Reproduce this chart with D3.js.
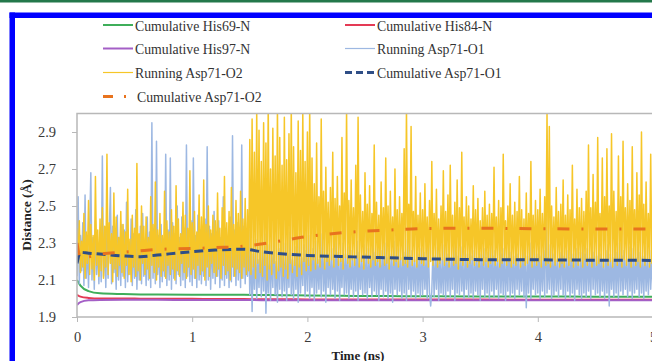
<!DOCTYPE html>
<html>
<head>
<meta charset="utf-8">
<script src="https://cdn.jsdelivr.net/npm/d3@7/dist/d3.min.js"></script>
<style>
  html, body { margin: 0; padding: 0; background: #fff; }
  svg { display: block; }
</style>
</head>
<body>
<svg id="chart" width="652" height="361"></svg>
<script>
// time axis ticks / distance ticks
const xTicks = [0, 1, 2, 3, 4, 5];
const yTicks = [1.9, 2.1, 2.3, 2.5, 2.7, 2.9];

// running distances, one sample every 0.01 ns
const runStep = 0.01;
const runningO1 = [
  2.12,2.55,2.08,2.34,2.15,2.41,2.07,2.56,2.11,2.30,2.06,2.38,2.68,2.10,2.33,2.05,2.42,2.13,2.29,2.08,
  2.36,2.09,2.77,2.12,2.31,2.06,2.44,2.11,2.35,2.60,2.08,2.39,2.14,2.28,2.05,2.45,2.10,2.33,2.07,2.40,
  2.12,2.37,2.06,2.52,2.09,2.30,2.13,2.43,2.07,2.35,2.11,2.48,2.05,2.32,2.10,2.39,2.08,2.46,2.12,2.31,
  2.07,2.44,2.10,2.36,2.06,2.95,2.11,2.38,2.08,2.85,2.13,2.34,2.06,2.40,2.09,2.32,2.12,2.78,2.07,2.37,
  2.10,2.76,2.05,2.41,2.11,2.35,2.08,2.50,2.13,2.33,2.07,2.44,2.10,2.38,2.06,2.83,2.12,2.36,2.09,2.42,
  2.07,2.76,2.11,2.34,2.06,2.45,2.10,2.37,2.08,2.31,2.12,2.43,2.07,2.82,2.10,2.39,2.05,2.35,2.11,2.47,
  2.08,2.36,2.12,2.42,2.06,2.33,2.10,2.55,2.07,2.38,2.11,2.32,2.06,2.44,2.09,2.88,2.12,2.37,2.07,2.41,
  2.10,2.35,2.06,2.83,2.11,2.39,2.08,2.33,2.12,2.40,2.02,2.28,1.93,2.24,2.05,2.32,2.00,2.21,2.06,2.30,
  2.01,2.26,2.04,2.35,1.92,2.22,2.03,2.29,1.99,2.25,2.06,2.33,2.02,2.20,1.98,2.27,2.05,2.38,2.01,2.23,
  2.04,2.30,1.99,2.24,2.06,2.36,2.02,2.21,2.00,2.28,2.05,2.25,1.98,2.32,2.03,2.22,2.07,2.29,2.01,2.26,
  2.04,2.34,2.00,2.23,2.06,2.27,1.99,2.31,2.03,2.21,2.05,2.26,2.01,2.35,2.04,2.22,1.98,2.29,2.06,2.24,
  2.02,2.27,2.05,2.21,2.00,2.33,2.04,2.25,1.99,2.22,2.06,2.30,2.02,2.24,2.03,2.28,2.00,2.21,2.05,2.26,
  2.01,2.23,2.04,2.31,1.99,2.25,2.05,2.22,2.02,2.29,2.03,2.24,2.00,2.27,2.06,2.21,2.01,2.33,2.04,2.25,
  2.02,2.28,1.99,2.23,2.05,2.26,2.01,2.30,2.04,2.22,2.00,2.27,2.03,2.24,1.98,2.31,2.05,2.23,2.02,2.27,
  2.04,2.22,2.00,2.29,2.03,2.25,1.99,2.32,2.05,2.23,2.01,2.26,2.04,2.21,2.00,2.28,2.03,2.24,2.01,2.27,
  2.02,2.25,2.05,2.22,2.00,2.30,2.03,1.96,2.04,2.26,2.01,2.23,2.05,2.28,1.99,2.24,2.03,2.21,2.02,2.29,
  2.00,2.24,2.04,2.27,2.01,2.22,2.05,2.30,1.99,2.25,2.03,2.23,2.02,2.28,2.04,2.21,2.00,2.26,2.05,2.24,
  2.01,2.29,2.03,2.23,2.00,2.26,2.04,2.22,2.02,2.31,1.99,2.24,2.05,2.27,2.01,2.22,2.03,2.25,2.00,2.28,
  2.04,2.23,2.01,2.26,2.05,2.21,2.00,2.29,2.03,2.24,2.02,2.27,1.99,2.22,2.04,2.30,2.01,2.25,2.03,2.23,
  2.00,2.27,2.05,2.24,2.02,2.21,2.04,2.28,2.01,2.25,1.95,2.23,2.03,2.30,2.00,2.22,2.05,2.26,2.02,2.24,
  2.03,2.28,2.00,2.23,2.04,2.26,2.01,2.45,2.03,2.22,2.05,2.29,2.00,2.24,2.02,2.27,2.04,2.21,2.01,2.25,
  2.05,2.30,2.02,2.23,2.00,2.26,2.04,2.22,2.01,2.28,2.03,2.24,1.99,2.27,2.05,2.21,2.02,2.25,2.00,2.29,
  2.03,2.24,2.01,2.27,2.04,2.22,2.00,2.30,2.05,2.25,2.02,2.23,2.03,2.28,2.01,2.24,2.04,2.21,2.00,2.26,
  2.03,2.29,1.96,2.24,2.05,2.22,2.01,2.27,2.03,2.25,2.00,2.30,2.04,2.23,2.02,2.26,2.05,2.21,2.01,2.28,
  2.04,2.24,2.00,2.27,2.03,2.22,2.05,2.29,2.01,2.25,2.03,2.23,2.00,2.28,2.04,2.21,2.02,2.26,2.05,2.24,
  2.03
];
const runningO2 = [
  2.38,2.20,2.42,2.14,2.31,2.17,2.46,2.11,2.36,2.19,2.53,2.13,2.40,2.16,2.34,2.10,2.66,2.18,2.37,2.12,
  2.43,2.15,2.49,2.11,2.39,2.17,2.78,2.13,2.41,2.19,2.35,2.09,2.57,2.16,2.44,2.12,2.33,2.18,2.47,2.14,
  2.40,2.11,2.36,2.18,2.59,2.13,2.32,2.09,2.45,2.17,2.38,2.12,2.73,2.15,2.35,2.10,2.50,2.19,2.39,2.13,
  2.44,2.16,2.33,2.11,2.55,2.18,2.40,2.14,2.63,2.10,2.37,2.17,2.46,2.12,2.34,2.15,2.58,2.11,2.42,2.18,
  2.36,2.13,2.48,2.16,2.39,2.10,2.61,2.15,2.43,2.12,2.35,2.19,2.52,2.14,2.45,2.11,2.38,2.17,2.69,2.13,
  2.41,2.16,2.47,2.11,2.36,2.18,2.56,2.13,2.44,2.15,2.64,2.10,2.40,2.17,2.50,2.12,2.37,2.19,2.45,2.14,
  2.42,2.12,2.57,2.16,2.38,2.11,2.49,2.18,2.66,2.13,2.41,2.15,2.47,2.10,2.60,2.17,2.40,2.12,2.53,2.16,
  2.46,2.14,2.58,2.11,2.43,2.17,2.54,2.13,2.48,2.15,2.86,2.13,2.97,2.17,2.79,2.11,3.02,2.19,2.91,2.14,
  2.74,2.12,2.95,2.18,2.84,2.10,3.05,2.16,2.70,2.13,2.92,2.19,2.77,2.11,3.03,2.15,2.87,2.17,2.72,2.12,
  2.98,2.16,2.75,2.11,2.89,2.19,3.04,2.14,2.82,2.18,2.68,2.12,2.96,2.17,2.80,2.13,3.01,2.20,2.74,2.15,
  2.90,2.18,3.03,2.15,2.76,2.21,2.62,2.16,2.84,2.19,2.55,2.17,2.97,2.22,2.58,2.16,2.71,2.20,2.52,2.18,
  2.60,2.21,2.79,2.17,2.54,2.23,2.66,2.18,2.50,2.20,2.87,2.16,2.57,2.22,3.02,2.19,2.53,2.17,2.64,2.21,
  2.49,2.18,2.72,2.22,2.98,2.17,2.56,2.20,2.47,2.16,2.68,2.23,2.51,2.19,2.61,2.17,2.46,2.21,2.83,2.18,
  2.52,2.20,2.45,2.17,2.63,2.22,2.49,2.18,2.76,2.19,2.50,2.16,2.58,2.21,2.44,2.18,2.70,2.20,2.48,2.17,
  2.55,2.21,2.46,2.18,2.81,2.19,3.03,2.17,2.51,2.22,2.93,2.18,2.47,2.20,2.66,2.17,2.45,2.21,2.57,2.19,
  2.48,2.18,2.62,2.21,2.44,2.17,2.53,2.20,2.74,2.18,2.46,2.22,2.59,2.17,2.43,2.19,2.50,2.21,2.69,2.18,
  2.47,2.20,2.56,2.17,2.72,2.21,2.45,2.18,2.52,2.19,2.64,2.16,2.49,2.20,2.79,2.18,2.44,2.21,2.55,2.17,
  2.50,2.19,2.43,2.21,2.61,2.18,2.48,2.20,2.54,2.17,2.42,2.21,2.49,2.18,2.58,2.20,2.45,2.17,2.51,2.19,
  2.46,2.21,2.71,2.18,2.44,2.20,2.53,2.17,2.49,2.19,2.78,2.21,2.42,2.18,2.50,2.20,2.62,2.17,2.45,2.19,
  2.52,2.18,2.47,2.21,2.66,2.17,2.48,2.20,2.43,2.18,2.57,2.19,2.46,2.21,2.74,2.17,2.45,2.20,2.53,2.18,
  2.48,2.20,2.59,2.17,2.46,2.21,2.55,2.18,3.01,2.19,2.93,2.17,2.50,2.21,2.44,2.18,2.60,2.20,2.47,2.17,
  2.51,2.19,2.64,2.17,2.45,2.21,2.56,2.18,2.48,2.20,2.72,2.17,2.43,2.21,2.59,2.18,2.49,2.20,2.54,2.17,
  2.47,2.21,2.58,2.18,2.83,2.20,2.49,2.17,2.67,2.21,2.52,2.18,2.87,2.19,2.46,2.20,2.76,2.17,2.55,2.21,
  2.81,2.18,2.50,2.20,2.89,2.17,2.58,2.21,2.47,2.18,2.77,2.20,2.55,2.17,2.85,2.21,2.49,2.18,2.62,2.20,
  2.53,2.17,2.82,2.21,2.48,2.18,2.68,2.20,2.56,2.17,2.90,2.21,2.51,2.18,2.63,2.20,2.46,2.17,2.78,2.19,
  2.55
];

// cumulative averages, sampled at these times (ns)
const cumTimes = [0, 0.03, 0.1, 0.2, 0.4, 0.55, 0.7, 1.0, 1.2, 1.45, 1.6, 1.8, 2.0, 2.4, 2.7, 3.0, 3.5, 4.0, 4.5, 5.0];
const cumHis69 = [2.10, 2.07, 2.04, 2.028, 2.024, 2.022, 2.021, 2.02, 2.02, 2.02, 2.019, 2.018, 2.016, 2.014, 2.013, 2.012, 2.011, 2.011, 2.01, 2.01];
const cumHis84 = [2.02, 2.01, 2.003, 2.0, 2.0, 1.999, 1.998, 1.998, 1.997, 1.997, 1.996, 1.996, 1.995, 1.995, 1.994, 1.994, 1.994, 1.993, 1.993, 1.993];
const cumHis97 = [1.965, 1.98, 1.99, 1.992, 1.993, 1.993, 1.993, 1.992, 1.992, 1.992, 1.991, 1.991, 1.99, 1.99, 1.99, 1.99, 1.99, 1.99, 1.99, 1.99];
const cumO1 = [2.19, 2.25, 2.245, 2.24, 2.23, 2.226, 2.235, 2.253, 2.262, 2.266, 2.253, 2.24, 2.233, 2.225, 2.22, 2.215, 2.21, 2.209, 2.207, 2.206];
const cumO2 = [2.30, 2.22, 2.225, 2.24, 2.25, 2.258, 2.265, 2.27, 2.275, 2.283, 2.295, 2.315, 2.335, 2.36, 2.37, 2.378, 2.38, 2.377, 2.376, 2.375];

const seriesNames = [
  'Cumulative His69-N', 'Cumulative His84-N', 'Cumulative His97-N', 'Running Asp71-O1',
  'Running Asp71-O2', 'Cumulative Asp71-O1', 'Cumulative Asp71-O2'
];

const serif = '"Liberation Serif", "Times New Roman", serif';
const plot = { left: 77, right: 653, top: 113.5, bottom: 317 };
// the source picture is slightly squeezed horizontally
const squeeze = 0.89;

const svg = d3.select('#chart');

const x = d3.scaleLinear().domain([0, 5]).range([plot.left, plot.right]);
const y = d3.scaleLinear().domain([1.9, 3.0]).range([plot.bottom, plot.top]);

// page decoration: green rule on top, blue frame
svg.append('rect').attr('x', 0).attr('y', 0).attr('width', 652).attr('height', 2.5).attr('fill', '#23784a');
svg.append('rect').attr('x', 9.5).attr('y', 12.5).attr('width', 5.5).attr('height', 361).attr('fill', '#0000ff');
svg.append('rect').attr('x', 9.5).attr('y', 12.5).attr('width', 660).attr('height', 5.5).attr('fill', '#0000ff');

svg.append('defs').append('clipPath').attr('id', 'clip')
  .append('rect')
  .attr('x', plot.left).attr('y', plot.top)
  .attr('width', plot.right - plot.left).attr('height', plot.bottom - plot.top);

const styles = [
  { color: '#3fae5a', width: 2, dash: null },
  { color: '#e43a55', width: 2, dash: null },
  { color: '#a45fc6', width: 2, dash: null },
  { color: '#9db8e2', width: 1.5, dash: null },
  { color: '#f6c628', width: 1.5, dash: null },
  { color: '#2f4e86', width: 3, dash: '9,5' },
  { color: '#e8731e', width: 3, dash: '12,12,2,12' }
];

const runLine = d3.line()
  .x((d, i) => x(i * runStep))
  .y(d => y(d));

const cumLine = d3.line()
  .x((d, i) => x(cumTimes[i]))
  .y(d => y(d))
  .curve(d3.curveMonotoneX);

const gPlot = svg.append('g').attr('clip-path', 'url(#clip)');

function drawSeries(values, style, line) {
  gPlot.append('path').datum(values)
    .attr('fill', 'none')
    .attr('stroke', style.color)
    .attr('stroke-width', style.width)
    .attr('stroke-dasharray', style.dash)
    .attr('stroke-linejoin', 'round')
    .attr('d', line);
}

drawSeries(cumHis69, styles[0], cumLine);
drawSeries(cumHis84, styles[1], cumLine);
drawSeries(cumHis97, styles[2], cumLine);
drawSeries(runningO1, styles[3], runLine);
drawSeries(runningO2, styles[4], runLine);
drawSeries(cumO1, styles[5], cumLine);
drawSeries(cumO2, styles[6], cumLine);

// frame
svg.append('path')
  .attr('d', `M${plot.right},${plot.top}H${plot.left}V${plot.bottom}H${plot.right}`)
  .attr('fill', 'none').attr('stroke', '#b8b8b8').attr('stroke-width', 1.5);

// axes
const yAxis = d3.axisLeft(y).tickValues(yTicks).tickSize(5).tickPadding(16).tickFormat(d3.format('.1f'));
const xAxis = d3.axisBottom(x).tickValues(xTicks).tickSize(5).tickPadding(10).tickFormat(d3.format('d'));

const gy = svg.append('g').attr('transform', `translate(${plot.left},0)`).call(yAxis);
const gx = svg.append('g').attr('transform', `translate(0,${plot.bottom})`).call(xAxis);

[gx, gy].forEach(g => {
  g.select('.domain').remove();
  g.selectAll('.tick line').attr('stroke', '#b8b8b8');
  g.selectAll('.tick text')
    .attr('font-family', serif)
    .attr('font-size', 14.5)
    .attr('fill', '#3a3a3a');
});

svg.append('text')
  .attr('transform', 'translate(30.5,215) rotate(-90)')
  .attr('text-anchor', 'middle')
  .attr('font-family', serif)
  .attr('font-weight', 'bold')
  .attr('font-size', 13.5)
  .attr('fill', '#222')
  .text('Distance (Å)');

svg.append('text')
  .attr('x', 358).attr('y', 359.5)
  .attr('text-anchor', 'middle')
  .attr('font-family', serif)
  .attr('font-weight', 'bold')
  .attr('font-size', 13)
  .attr('fill', '#222')
  .text('Time (ns)');

// legend, two columns
const legendCol = [103, 345];
const legendRow = [25, 48.5, 72.5, 96.5];

const legend = svg.selectAll('.legend')
  .data(seriesNames)
  .enter()
  .append('g')
  .attr('class', 'legend')
  .attr('transform', (d, i) => `translate(${legendCol[i % 2]},${legendRow[Math.floor(i / 2)]})`);

legend.append('line')
  .attr('x1', 0).attr('x2', 30).attr('y1', 0).attr('y2', 0)
  .attr('stroke', (d, i) => styles[i].color)
  .attr('stroke-width', (d, i) => styles[i].width + (i === 3 || i === 4 ? -0.3 : 0))
  .attr('stroke-dasharray', (d, i) => i === 6 ? '10,11,2,20' : (i === 5 ? '7,4' : null));

legend.append('text')
  .attr('x', (d, i) => i === 6 ? 34 : 32)
  .attr('y', 5.5)
  .attr('font-family', serif)
  .attr('font-size', 15.5)
  .attr('fill', '#333')
  .text(d => d);

// squeeze legend texts to the source's aspect
legend.selectAll('text').each(function () {
  const w = this.getComputedTextLength();
  d3.select(this).attr('textLength', w * squeeze).attr('lengthAdjust', 'spacingAndGlyphs');
});
</script>
</body>
</html>
